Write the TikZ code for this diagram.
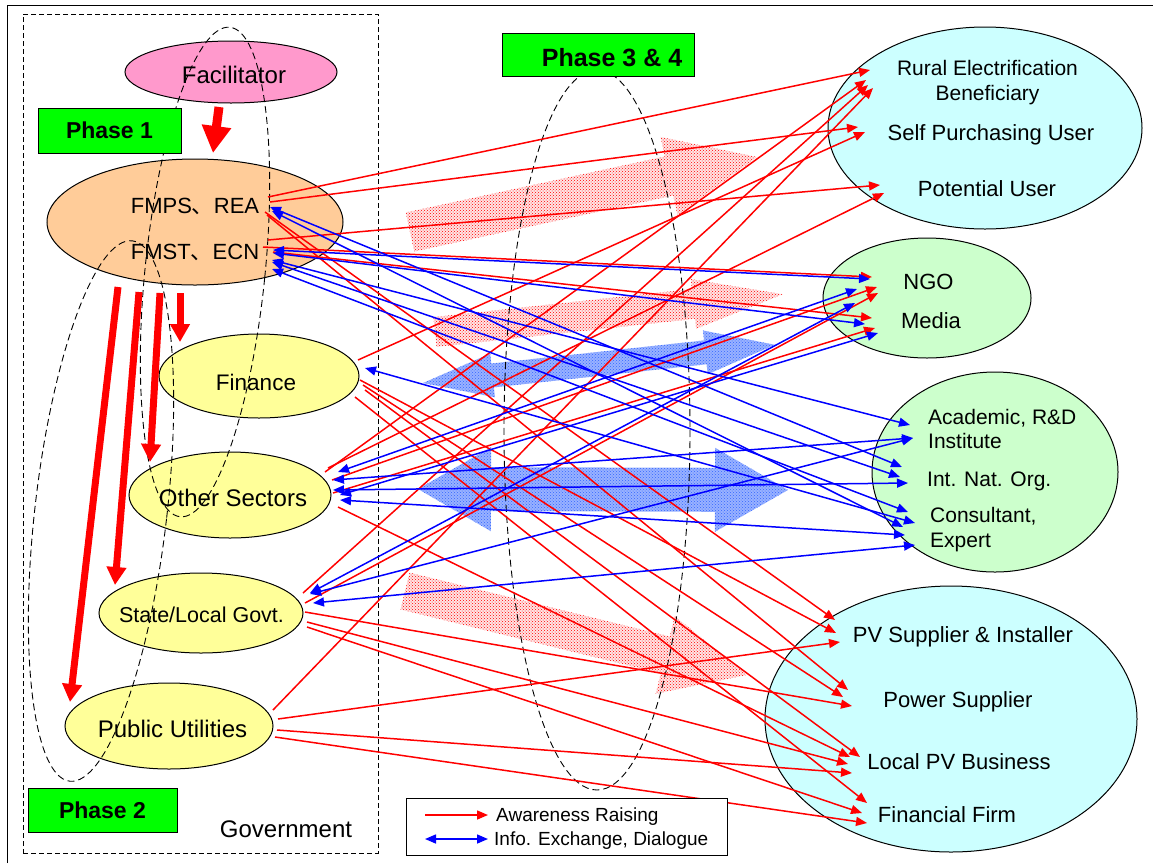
\documentclass[tikz,border=0pt]{standalone}
\usepackage{fontspec}
\setmainfont{Liberation Sans}
\newfontfamily\cjk{Noto Sans CJK JP}
\usetikzlibrary{arrows.meta,patterns,shapes.geometric}

\definecolor{facpink}{HTML}{FF99CC}
\definecolor{fedorange}{HTML}{FFCC99}
\definecolor{govyellow}{HTML}{FFFF99}
\definecolor{usrcyan}{HTML}{CCFFFF}
\definecolor{orggreen}{HTML}{CCFFCC}
\definecolor{phgreen}{HTML}{00FF00}
\definecolor{hatchblue}{HTML}{3366FF}

% connector from a point relative to one node to a point relative to another
\newcommand\lnk[5]{\draw[#1] ([shift={#3}]#2.center) -- ([shift={#5}]#4.center);}
% broad arrow shapes: style, start, angle, length, shaft half width, head half width, head length
\newcommand\onearrow[7]{\path[#1, shift={#2}, rotate=#3]
  (0,-#5) -- ({#4-#7},-#5) -- ({#4-#7},-#6) -- (#4,0) -- ({#4-#7},#6) -- ({#4-#7},#5) -- (0,#5) -- cycle;}
\newcommand\twoarrow[7]{\path[#1, shift={#2}, rotate=#3]
  (0,0) -- (#7,-#6) -- (#7,-#5) -- ({#4-#7},-#5) -- ({#4-#7},-#6) -- (#4,0)
  -- ({#4-#7},#6) -- ({#4-#7},#5) -- (#7,#5) -- (#7,#6) -- cycle;}

\begin{document}
\begin{tikzpicture}[x=1pt,y=-1pt,
  blob/.style={ellipse, draw=black, line width=1pt, inner sep=0pt},
  lbl/.style={inner sep=0pt, font=\fontsize{22}{26}\selectfont},
  big/.style={inner sep=0pt, font=\fontsize{24}{28}\selectfont},
  phasebox/.style={draw=black, fill=phgreen, line width=1pt, inner sep=0pt,
    font=\fontsize{23}{27}\selectfont\bfseries},
  phase/.style={draw=black, line width=0.9pt, dash pattern=on 7pt off 4pt},
  aw/.style={draw=red, line width=1.5pt, -{Triangle[length=11pt,width=9pt]}},
  bw/.style={draw=blue, line width=1.5pt, {Triangle[length=11pt,width=9pt]}-{Triangle[length=11pt,width=9pt]}},
  push/.style={draw=red, line width=7pt, -{Triangle[length=18pt,width=19pt]}},
  rhatch/.style={preaction={fill=red!10}, pattern=crosshatch dots, pattern color=red},
  bhatch/.style={preaction={fill=hatchblue!50}, pattern=crosshatch dots, pattern color=hatchblue},
]
\useasboundingbox (0,0) rectangle (1153,863);

% frame and government area
\draw[line width=1pt] (7,863) -- (7,5) -- (1153,5);
\node[draw=black, line width=1pt, dash pattern=on 5pt off 3pt, minimum width=355pt, minimum height=839pt, inner sep=0pt] (gov) at (200.5,433.5) {};

% stakeholder ellipses
\node[blob, fill=facpink, minimum width=212pt, minimum height=62pt] (fac) at (231,72) {};
\node[blob, fill=fedorange, minimum width=296pt, minimum height=126pt] (fed) at (195,222) {};
\node[blob, fill=govyellow, minimum width=200pt, minimum height=84pt] (fin) at (259,376) {};
\node[blob, fill=govyellow, minimum width=202pt, minimum height=86pt] (oth) at (230,495) {};
\node[blob, fill=govyellow, minimum width=204pt, minimum height=80pt] (sta) at (201,613) {};
\node[blob, fill=govyellow, minimum width=208pt, minimum height=86pt] (pub) at (169,726) {};
\node[blob, fill=usrcyan, minimum width=314pt, minimum height=202pt] (usr) at (985,128) {};
\node[blob, fill=orggreen, minimum width=208pt, minimum height=120pt] (ngo) at (927,298) {};
\node[blob, fill=orggreen, minimum width=246pt, minimum height=200pt] (aca) at (995,472) {};
\node[blob, fill=usrcyan, minimum width=372pt, minimum height=266pt] (sup) at (951,719) {};

% broad hatched arrows in the middle
\onearrow{rhatch}{(410,232)}{12.2}{355}{20}{40}{90}
\onearrow{rhatch}{(435,332)}{6.2}{350}{15}{25}{90}
\onearrow{rhatch}{(405,591)}{-13.8}{352}{19}{40}{84}
\twoarrow{bhatch}{(423,383)}{6.2}{354}{12}{22}{70}
\twoarrow{bhatch}{(418,489)}{-0.15}{370}{22}{42}{73}

% phase groupings
\draw[phase, rotate around={-5.8:(205,272)}] (205,272) ellipse [x radius=60, y radius=246];
\draw[phase, rotate around={-6.6:(101,511)}] (101,511) ellipse [x radius=66, y radius=272];
\draw[phase] (597,430) ellipse [x radius=93, y radius=360];

\node[phasebox, minimum width=143pt, minimum height=45pt] (ph1) at (109.5,130.5) {Phase 1};
\node[phasebox, minimum width=149pt, minimum height=44pt] (ph2) at (102.5,810) {Phase 2};
\node[phasebox, minimum width=192pt, minimum height=43pt] (ph3) at (598,54.5) {};
\node[inner sep=0pt, font=\fontsize{25}{29}\selectfont\bfseries, anchor=base] (tph3) at (612,66) {Phase 3 \& 4};

% labels
\node[big, anchor=base] (tfac) at (234,83) {Facilitator};
\node[lbl, anchor=base] (fmps) at (195,213) {FMPS{\cjk 、}REA};
\node[lbl, anchor=base] (fmst) at (195,259) {FMST{\cjk 、}ECN};
\node[lbl, font=\fontsize{22.5}{26}\selectfont, anchor=base] (tfin) at (256,390) {Finance};
\node[big, anchor=base] (toth) at (233,506) {Other Sectors};
\node[lbl, font=\fontsize{21.5}{26}\selectfont, anchor=base] (tsta) at (201.5,622) {State/Local Govt.};
\node[big, anchor=base] (tpub) at (172.5,737) {Public Utilities};
\node[big, anchor=base] (tgov) at (286,837) {Government};

\node[lbl, font=\fontsize{21}{25}\selectfont, anchor=base] (rural) at (987.5,75) {Rural Electrification};
\node[lbl, font=\fontsize{21}{25}\selectfont, anchor=base] (benef) at (987.5,100) {Beneficiary};
\node[lbl, anchor=base] (self) at (991,140) {Self Purchasing User};
\node[lbl, anchor=base] (pot) at (987,196) {Potential User};
\node[lbl, anchor=base] (tngo) at (928.5,289) {NGO};
\node[lbl, anchor=base] (media) at (931,328) {Media};
\node[lbl, font=\fontsize{21}{25}\selectfont, anchor=base west] (acad) at (928,424) {Academic, R\&D};
\node[lbl, font=\fontsize{21}{25}\selectfont, anchor=base west] (inst) at (928,448) {Institute};
\node[lbl, font=\fontsize{21}{25}\selectfont, anchor=base west] (into) at (927,486) {Int. Nat. Org.};
\node[lbl, font=\fontsize{21}{25}\selectfont, anchor=base west] (cons) at (930,522) {Consultant,};
\node[lbl, font=\fontsize{21}{25}\selectfont, anchor=base west] (expt) at (930,547) {Expert};
\node[lbl, anchor=base] (pvs) at (963,642) {PV Supplier \& Installer};
\node[lbl, anchor=base] (pows) at (958,707) {Power Supplier};
\node[lbl, anchor=base] (lpv) at (959,769) {Local PV Business};
\node[lbl, anchor=base] (finf) at (947,822) {Financial Firm};

% top-down push within government
\draw[draw=red, line width=9pt, -{Triangle[length=27pt,width=28pt]}] ([shift={(-12,35)}]fac.center) -- ([shift={(18,-69)}]fed.center);
\draw[push] ([shift={(-15,71)}]fed.center) -- ([shift={(-79,-34)}]fin.center);
\draw[push] ([shift={(-35,71)}]fed.center) -- ([shift={(-80,-33)}]oth.center);
\draw[push] ([shift={(-56,70)}]fed.center) -- ([shift={(-86,-28)}]sta.center);
\draw[push] ([shift={(-77,65)}]fed.center) -- ([shift={(-99,-24)}]pub.center);

% awareness raising
\lnk{aw}{fed}{(73,-25)}{usr}{(-115,-58)}
\lnk{aw}{fed}{(75,-20)}{usr}{(-127,-1)}
\lnk{aw}{fed}{(70,-10)}{sup}{(-116,-99)}
\lnk{aw}{fed}{(72,-7)}{sup}{(-103,-29)}
\lnk{aw}{fed}{(73,18)}{usr}{(-105,57)}
\lnk{aw}{fed}{(68,25)}{ngo}{(-55,-21)}
\lnk{aw}{fed}{(78,30)}{ngo}{(-55,20)}
\lnk{aw}{fin}{(99,-16)}{usr}{(-120,4)}
\lnk{aw}{fin}{(101,4)}{sup}{(-115,-86)}
\lnk{aw}{fin}{(104,9)}{sup}{(-108,-22)}
\lnk{aw}{fin}{(106,14)}{sup}{(-91,38)}
\lnk{aw}{fin}{(96,21)}{sup}{(-84,84)}
\lnk{aw}{oth}{(95,-23)}{usr}{(-119,-48)}
\lnk{aw}{oth}{(102,-15)}{ngo}{(-50,-11)}
\lnk{aw}{oth}{(103,-2)}{ngo}{(-52,30)}
\lnk{aw}{oth}{(108,12)}{sup}{(-101,38)}
\lnk{aw}{oth}{(98,-27)}{usr}{(-101,65)}
\lnk{aw}{sta}{(102,-20)}{usr}{(-117,-43)}
\lnk{aw}{sta}{(104,-10)}{ngo}{(-49,-5)}
\lnk{aw}{sta}{(104,-1)}{sup}{(-99,-13)}
\lnk{aw}{sta}{(106,9)}{sup}{(-103,45)}
\lnk{aw}{sta}{(106,14)}{sup}{(-89,94)}
\lnk{aw}{pub}{(104,-16)}{usr}{(-112,-40)}
\lnk{aw}{pub}{(109,-7)}{sup}{(-111,-77)}
\lnk{aw}{pub}{(108,4)}{sup}{(-99,54)}
\lnk{aw}{pub}{(106,11)}{sup}{(-84,104)}

% information exchange and dialogue
\lnk{bw}{fed}{(75,-15)}{aca}{(-93,-5)}
\lnk{bw}{fed}{(77,-11)}{aca}{(-92,55)}
\lnk{bw}{fed}{(78,28)}{ngo}{(-57,-19)}
\lnk{bw}{fed}{(78,31)}{ngo}{(-62,26)}
\lnk{bw}{fed}{(77,38)}{aca}{(-85,-47)}
\lnk{bw}{fed}{(77,40)}{aca}{(-95,5)}
\lnk{bw}{fed}{(77,47)}{aca}{(-87,40)}
\lnk{bw}{fin}{(106,-8)}{aca}{(-80,51)}
\lnk{bw}{oth}{(108,-23)}{ngo}{(-70,-9)}
\lnk{bw}{oth}{(103,-15)}{aca}{(-82,-34)}
\lnk{bw}{oth}{(103,-5)}{aca}{(-87,11)}
\lnk{bw}{oth}{(110,5)}{aca}{(-90,63)}
\lnk{bw}{oth}{(110,0)}{ngo}{(-49,35)}
\lnk{bw}{sta}{(109,-20)}{ngo}{(-72,5)}
\lnk{bw}{sta}{(109,-19)}{aca}{(-82,-34)}
\lnk{bw}{sta}{(112,-10)}{aca}{(-80,73)}

% legend
\node[draw=black, fill=white, line width=1pt, minimum width=321pt, minimum height=57pt, inner sep=0pt] (leg) at (566.5,826.5) {};
\coordinate (lra) at (425,815);
\coordinate (lrb) at (488,815);
\coordinate (lba) at (425,839);
\coordinate (lbb) at (488,839);
\draw[aw] (lra) -- (lrb);
\draw[bw] (lba) -- (lbb);
\node[inner sep=0pt, font=\fontsize{19}{22}\selectfont, anchor=base west] (lgr) at (496,821) {Awareness Raising};
\node[inner sep=0pt, font=\fontsize{19}{22}\selectfont, anchor=base west] (lgb) at (494,845) {Info. Exchange, Dialogue};
\end{tikzpicture}
\end{document}
